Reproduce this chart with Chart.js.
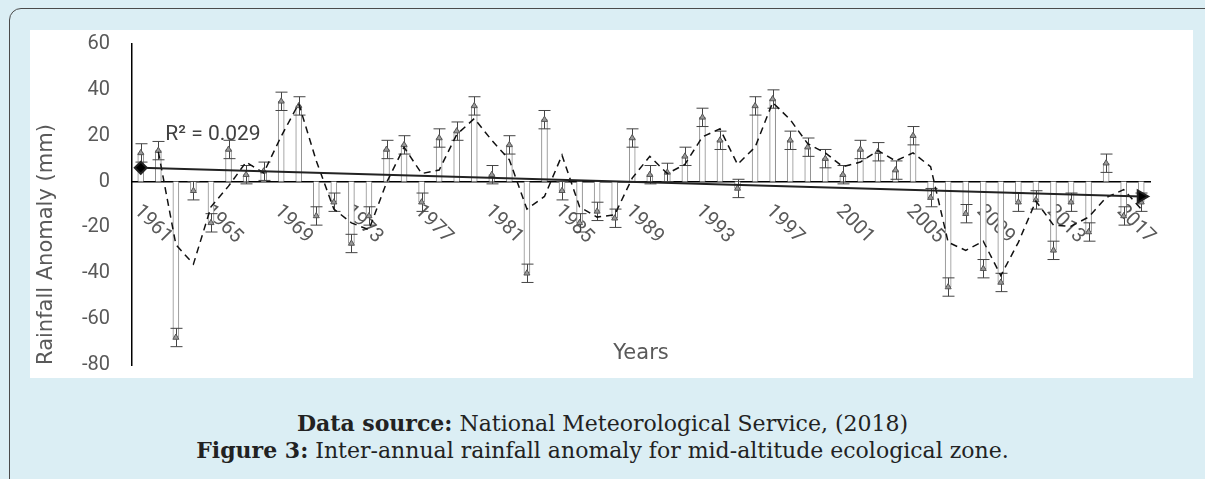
<!DOCTYPE html>
<html>
<head>
<meta charset="utf-8">
<script src="https://cdn.jsdelivr.net/npm/chart.js@4.4.0/dist/chart.umd.min.js"></script>
<style>
  body { margin: 0; background: #dbeef4; }
  #frame { position: absolute; left: 0; top: 0; width: 1205px; height: 479px; background: #dbeef4; overflow: hidden; }
  #border { position: absolute; left: 9px; top: 8px; width: 1300px; height: 600px; border: 1.5px solid #4a4a4a; border-radius: 12px; }
  #plot { position: absolute; left: 30px; top: 30px; width: 1163px; height: 348px; background: #fff; }
  .caption { position: absolute; left: 0; width: 1205px; text-align: center; font-family: 'DejaVu Serif', serif; font-size: 22px; line-height: 26px; color: #222; }
</style>
</head>
<body>
<div id="frame">
  <div id="border"></div>
  <div id="plot"><canvas id="rainChart"></canvas></div>
  <div class="caption" style="top:410px"><b>Data source:</b> National Meteorological Service, (2018)</div>
  <div class="caption" style="top:437px"><b>Figure 3:</b> Inter-annual rainfall anomaly for mid-altitude ecological zone.</div>
</div>
<script>
const years = ['1961','1962','1963','1964','1965','1966','1967','1968','1969','1970',
  '1971','1972','1973','1974','1975','1976','1977','1978','1979','1980',
  '1981','1982','1983','1984','1985','1986','1987','1988','1989','1990',
  '1991','1992','1993','1994','1995','1996','1997','1998','1999','2000',
  '2001','2002','2003','2004','2005','2006','2007','2008','2009','2010',
  '2011','2012','2013','2014','2015','2016','2017','2018'];

// rainfall anomaly (mm)
const anomaly = [12.5, 13.5, -68, -4, -18, 14, 3, 4.5, 35, 33,
  -15, -9, -27, -15, 14, 16, -9, 19, 22, 33,
  3, 16, -40, 27, -4, -18, -13, -16, 19, 3,
  4, 11, 28, 18, -3, 33, 36, 18, 15, 10,
  3, 14, 13, 5, 20, -7, -46, -14, -38, -44,
  -9, -8, -30, -9, -22, 8, -15, -9];

// 2 period moving average (dashed line)
const movingAvg = [null, 13, -27.5, -36, -11, -2, 8.5, 3.75, 19.75, 34,
  9, -12, -18, -21, -0.5, 15, 3.5, 5, 20.5, 27.5,
  18, 9.5, -12, -6.5, 11.5, -11, -15.5, -14.5, 1.5, 11,
  3.5, 7.5, 19.5, 23, 7.5, 15, 34.5, 27, 16.5, 12.5,
  6.5, 8.5, 13.5, 9, 12.5, 6.5, -26.5, -30, -26, -41,
  -26.5, -8.5, -19, -19.5, -15.5, -7, -3.5, -12];

const errorSize = 4;          // error bar +/- (mm)
const trendEnds = [6, -6.5];  // linear trend at first and last year
const r2Label = 'R\u00b2 = 0.029';
const yTicks = [-80, -60, -40, -20, 0, 20, 40, 60];

const trendData = years.map((y, i) => i === 0 ? trendEnds[0] : (i === years.length - 1 ? trendEnds[1] : null));

const tickFont = { family: 'Roboto', size: 20 };
const textGrey = '#595959';

const errorBars = {
  id: 'errorBars',
  afterDatasetDraw(chart, args) {
    if (args.index !== 3) return;
    const ctx = chart.ctx;
    const x = chart.scales.x, y = chart.scales.y;
    ctx.save();
    ctx.strokeStyle = '#444';
    ctx.lineWidth = 1;
    anomaly.forEach((v, i) => {
      const px = Math.round(x.getPixelForValue(i)) + 0.5;
      const top = y.getPixelForValue(v + errorSize);
      const bot = y.getPixelForValue(v - errorSize);
      ctx.beginPath();
      ctx.moveTo(px, top); ctx.lineTo(px, bot);
      ctx.moveTo(px - 6, top); ctx.lineTo(px + 6, top);
      ctx.moveTo(px - 6, bot); ctx.lineTo(px + 6, bot);
      ctx.stroke();
    });
    ctx.restore();
  }
};

const extraText = {
  id: 'extraText',
  afterDraw(chart) {
    const ctx = chart.ctx;
    const x = chart.scales.x, y = chart.scales.y;
    const area = chart.chartArea;
    ctx.save();
    ctx.font = '21px Roboto';
    ctx.fillStyle = '#404040';
    ctx.textBaseline = 'middle';
    ctx.textAlign = 'left';
    ctx.fillText(r2Label, x.getPixelForValue(1) + 7, y.getPixelForValue(20.5));
    ctx.fillStyle = textGrey;
    ctx.textAlign = 'center';
    ctx.font = '21px "DejaVu Sans"';
    ctx.fillText('Years', (area.left + area.right) / 2, y.getPixelForValue(-75));
    ctx.restore();
  }
};

new Chart(document.getElementById('rainChart'), {
  type: 'bar',
  data: {
    labels: years,
    datasets: [
      {
        type: 'line',
        label: 'Linear trend',
        data: trendData,
        spanGaps: true,
        borderColor: '#222',
        borderWidth: 2,
        backgroundColor: '#000',
        pointStyle: c => c.dataIndex === 0 ? 'rectRot' : 'triangle',
        pointRotation: c => c.dataIndex === 0 ? 0 : 90,
        pointRadius: c => c.dataIndex === 0 ? 6 : 7,
        order: 0
      },
      {
        type: 'line',
        label: '2 per. Mov. Avg.',
        data: movingAvg,
        borderColor: '#111',
        borderWidth: 1.5,
        borderDash: [7, 5],
        pointRadius: 0,
        order: 1
      },
      {
        type: 'line',
        label: 'Anomaly markers',
        data: anomaly,
        showLine: false,
        pointStyle: 'triangle',
        pointRadius: 3.5,
        backgroundColor: '#9a9a9a',
        borderColor: '#555',
        borderWidth: 1,
        order: 2
      },
      {
        label: 'Rainfall anomaly',
        data: anomaly,
        backgroundColor: '#fff',
        borderColor: '#8c8c8c',
        borderWidth: 1,
        barThickness: 6,
        order: 3
      }
    ]
  },
  options: {
    responsive: true,
    maintainAspectRatio: false,
    animation: false,
    layout: { padding: { left: 0, top: 14, right: 43, bottom: 13 } },
    plugins: { legend: { display: false }, tooltip: { enabled: false } },
    scales: {
      x: {
        position: { y: 0 },
        grid: { display: false, drawTicks: true, tickLength: 50 },
        border: { display: true, color: '#000', width: 1.5 },
        ticks: {
          autoSkip: false,
          minRotation: -45,
          maxRotation: -45,
          labelOffset: 28,
          padding: 0,
          color: textGrey,
          font: tickFont,
          callback: (v, i) => i % 4 === 0 ? years[i] : ''
        }
      },
      y: {
        min: -80,
        max: 60,
        afterFit: s => { s.width = 102; },
        afterBuildTicks: s => { s.ticks = yTicks.map(v => ({ value: v })); },
        grid: { display: false, drawTicks: true, tickLength: 22 },
        border: { display: true, color: '#000', width: 1.5 },
        ticks: { padding: 0, color: textGrey, font: tickFont },
        title: { display: true, text: 'Rainfall Anomaly (mm)', align: 'start', color: textGrey, font: { family: 'DejaVu Sans', size: 21 }, padding: { top: 4 } }
      }
    }
  },
  plugins: [errorBars, extraText]
});
</script>
</body>
</html>
